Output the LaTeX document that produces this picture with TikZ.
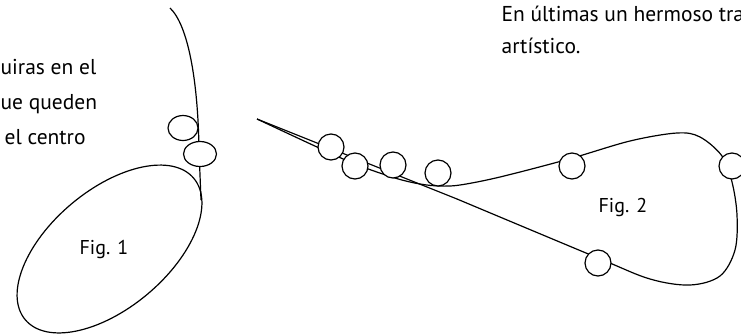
\documentclass[tikz,border=0pt]{standalone}
\usepackage{fontspec}
\setmainfont{PT Sans}
\usetikzlibrary{positioning,shapes.geometric}

\begin{document}
\begin{tikzpicture}[x=1pt,y=-1pt,line width=1.2pt,
  ring/.style={circle,draw,fill=white,minimum size=26pt,inner sep=0pt},
  bead/.style={ellipse,draw,fill=white,minimum height=25pt,inner sep=0pt},
  lab/.style={inner sep=0pt,anchor=base west,font=\fontsize{21.5}{24}\selectfont},
  figlab/.style={font=\fontsize{20}{24}\selectfont}]
  \useasboundingbox (0,0) rectangle (741,335);
  % Fig. 1
  \draw[rotate around={40:(109.5,249)}] (109.5,249) ellipse [x radius=110, y radius=59];
  \draw (170,8) .. controls (188,25) and (198,80) .. (199,150) -- (201,200);
  \node[bead,minimum width=30pt] (b1) at (183,128) {};
  \node[bead,minimum width=33pt] (b2) at (200,154) {};
  \node[figlab] (f1) at (104,249) {Fig. 1};
  % Fig. 2
  \coordinate (tip) at (257,119);
  \draw (tip) -- (457,199);
  \draw plot[smooth,tension=0.55] coordinates {(457,199) (598,258) (650,279) (690,285)
    (720,276) (735,250) (737,215) (732,182) (722,156) (700,137) (677,133) (630,141)
    (569,159) (500,177) (460,185) (440,186) (420,184) (395,178) (355,164) (317,147) (tip)};
  \foreach \p/\q in {r1/{331,147},r2/{355,166},r3/{393,165},r4/{438,173},
                     r5/{572,166},r6/{598,263},r7/{732,166}}
    \node[ring] (\p) at (\q) {};
  \node[figlab] (f2) at (623,207) {Fig. 2};
  % texto
  \node[lab] (t1) at (0,74) {uiras en el};
  \node[lab] (t2) at (0,109) {ue queden};
  \node[lab] (t3) at (4,144) {el centro};
  \node[lab] (t4) at (501,21) {En últimas un hermoso tra};
  \node[lab] (t5) at (501,53) {artístico.};
\end{tikzpicture}
\end{document}
